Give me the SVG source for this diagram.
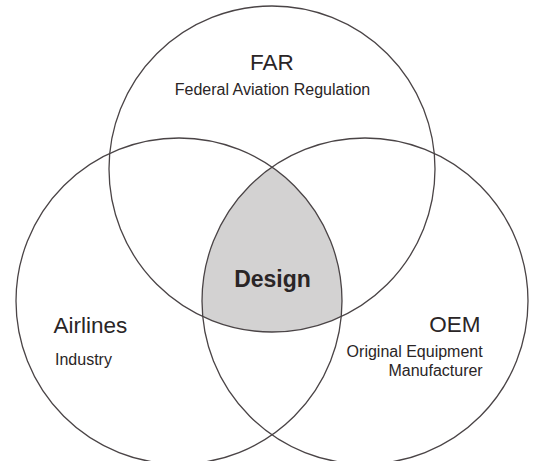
<svg xmlns="http://www.w3.org/2000/svg" width="535" height="461" viewBox="0 0 535 461">
  <style>
    .ring { fill: none; stroke: #4a4446; stroke-width: 1.3; }
    .core { fill: #d3d2d2; stroke: none; }
    text { font-family: "Liberation Sans", Arial, sans-serif; fill: #2a2526; }
    .title { font-size: 22.5px; }
    .sub { font-size: 16px; }
    .bold { font-size: 23px; font-weight: bold; }
  </style>
  <rect width="535" height="461" fill="#ffffff"/>
  <g id="design">
    <path class="core" d="M272,167 A163,163 0 0 0 202.7,316.6 A163,163 0 0 0 341.3,316.6 A163,163 0 0 0 272,167 Z"/>
  </g>
  <g id="far">
    <circle class="ring" cx="272" cy="169" r="163"/>
    <text class="title" x="272" y="69.5" text-anchor="middle">FAR</text>
    <text class="sub" x="272.5" y="95" text-anchor="middle">Federal Aviation Regulation</text>
  </g>
  <g id="airlines">
    <circle class="ring" cx="179" cy="301" r="163"/>
    <text class="title" x="53.5" y="332.7">Airlines</text>
    <text class="sub" x="55" y="364.5">Industry</text>
  </g>
  <g id="oem">
    <circle class="ring" cx="365" cy="301" r="163"/>
    <text class="title" x="480.5" y="331.7" text-anchor="end">OEM</text>
    <text class="sub" x="482.7" y="357.3" text-anchor="end">Original Equipment</text>
    <text class="sub" x="482.7" y="376" text-anchor="end">Manufacturer</text>
  </g>
  <g id="design-label">
    <text class="bold" x="272.5" y="287.3" text-anchor="middle">Design</text>
  </g>
</svg>
